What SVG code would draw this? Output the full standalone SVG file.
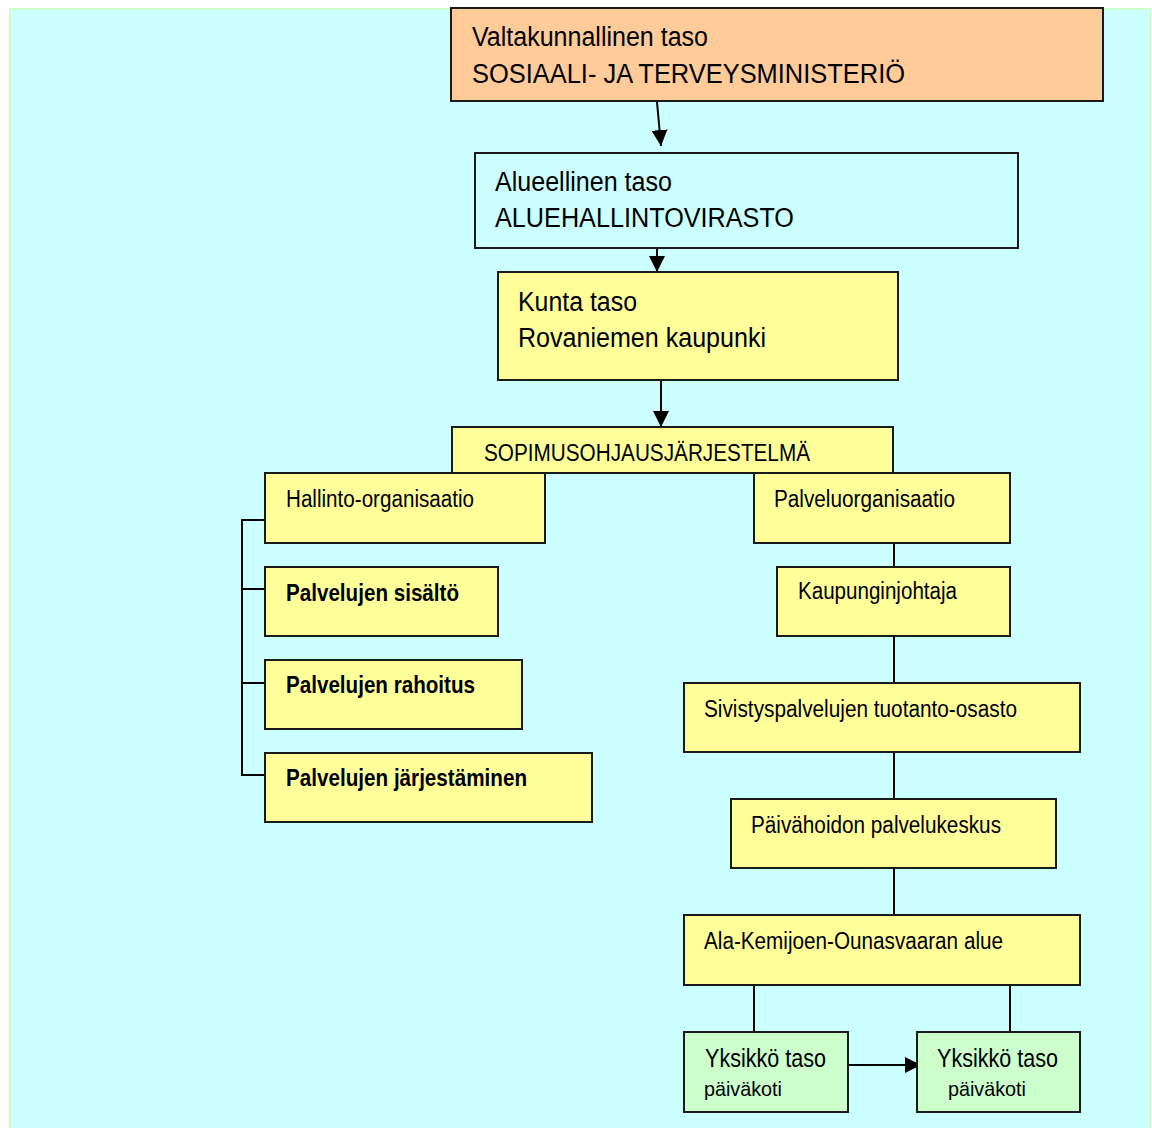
<svg xmlns="http://www.w3.org/2000/svg" width="1152" height="1128" viewBox="0 0 1152 1128">
<style>
  .box { stroke: #1a1a1a; stroke-width: 2; }
  .orange { fill: #FFCC99; }
  .cyan { fill: #CCFFFF; }
  .yellow { fill: #FFFF99; }
  .green { fill: #CCFFCC; }
  text { font-family: "Liberation Sans", Arial, sans-serif; fill: #000; }
  .big { font-size: 27px; }
  .mid { font-size: 23px; }
  .midb { font-size: 23px; font-weight: bold; }
  .small { font-size: 21px; }
  .conn { stroke: #000; stroke-width: 2; fill: none; }
</style>
<defs>
  <marker id="arrowL" viewBox="0 0 10 10" refX="10" refY="5" markerWidth="16" markerHeight="16" markerUnits="userSpaceOnUse" orient="auto">
    <path d="M0,0 L10,5 L0,10 z" fill="#000"/>
  </marker>
</defs>
<rect x="0" y="0" width="1152" height="1128" fill="#FFFFFF"/>
<rect x="10" y="9" width="1140" height="1122" fill="#CCFFFF" stroke="#CCFFCC" stroke-width="2"/>

<g id="connectors">
  <line class="conn" x1="657" y1="102" x2="661" y2="146" marker-end="url(#arrowL)"/>
  <line class="conn" x1="657" y1="249" x2="657" y2="272" marker-end="url(#arrowL)"/>
  <line class="conn" x1="661" y1="381" x2="661" y2="427" marker-end="url(#arrowL)"/>
  <path class="conn" d="M265,520 H242 V775 H265 M242,589 H265 M242,683 H265"/>
  <line class="conn" x1="894" y1="543" x2="894" y2="567"/>
  <line class="conn" x1="894" y1="636" x2="894" y2="683"/>
  <line class="conn" x1="894" y1="752" x2="894" y2="799"/>
  <line class="conn" x1="894" y1="868" x2="894" y2="915"/>
  <line class="conn" x1="754" y1="985" x2="754" y2="1032"/>
  <line class="conn" x1="1010" y1="985" x2="1010" y2="1032"/>
  <line class="conn" x1="848" y1="1065" x2="921" y2="1065" marker-end="url(#arrowL)"/>
</g>

<g id="node-valtakunnallinen">
  <rect class="box orange" x="451" y="8" width="652" height="93"/>
  <text class="big" x="472" y="46" textLength="236" lengthAdjust="spacingAndGlyphs">Valtakunnallinen taso</text>
  <text class="big" x="472" y="83" textLength="433" lengthAdjust="spacingAndGlyphs">SOSIAALI- JA TERVEYSMINISTERIÖ</text>
</g>

<g id="node-alueellinen">
  <rect class="box cyan" x="475" y="153" width="543" height="95"/>
  <text class="big" x="495" y="191" textLength="177" lengthAdjust="spacingAndGlyphs">Alueellinen taso</text>
  <text class="big" x="495" y="227" textLength="299" lengthAdjust="spacingAndGlyphs">ALUEHALLINTOVIRASTO</text>
</g>

<g id="node-kunta">
  <rect class="box yellow" x="498" y="272" width="400" height="108"/>
  <text class="big" x="518" y="311" textLength="119" lengthAdjust="spacingAndGlyphs">Kunta taso</text>
  <text class="big" x="518" y="347" textLength="248" lengthAdjust="spacingAndGlyphs">Rovaniemen kaupunki</text>
</g>

<g id="node-sopimus">
  <rect class="box yellow" x="452" y="427" width="441" height="46"/>
  <text class="mid" x="484" y="461" textLength="326" lengthAdjust="spacingAndGlyphs">SOPIMUSOHJAUSJÄRJESTELMÄ</text>
</g>

<g id="node-hallinto">
  <rect class="box yellow" x="265" y="473" width="280" height="70"/>
  <text class="mid" x="286" y="507" textLength="188" lengthAdjust="spacingAndGlyphs">Hallinto-organisaatio</text>
</g>

<g id="node-sisalto">
  <rect class="box yellow" x="265" y="567" width="233" height="69"/>
  <text class="midb" x="286" y="601" textLength="173" lengthAdjust="spacingAndGlyphs">Palvelujen sisältö</text>
</g>

<g id="node-rahoitus">
  <rect class="box yellow" x="265" y="660" width="257" height="69"/>
  <text class="midb" x="286" y="693" textLength="189" lengthAdjust="spacingAndGlyphs">Palvelujen rahoitus</text>
</g>

<g id="node-jarjestaminen">
  <rect class="box yellow" x="265" y="753" width="327" height="69"/>
  <text class="midb" x="286" y="786" textLength="241" lengthAdjust="spacingAndGlyphs">Palvelujen järjestäminen</text>
</g>

<g id="node-palveluorganisaatio">
  <rect class="box yellow" x="754" y="473" width="256" height="70"/>
  <text class="mid" x="774" y="507" textLength="181" lengthAdjust="spacingAndGlyphs">Palveluorganisaatio</text>
</g>

<g id="node-kaupunginjohtaja">
  <rect class="box yellow" x="777" y="567" width="233" height="69"/>
  <text class="mid" x="798" y="599" textLength="159" lengthAdjust="spacingAndGlyphs">Kaupunginjohtaja</text>
</g>

<g id="node-sivistys">
  <rect class="box yellow" x="684" y="683" width="396" height="69"/>
  <text class="mid" x="704" y="717" textLength="313" lengthAdjust="spacingAndGlyphs">Sivistyspalvelujen tuotanto-osasto</text>
</g>

<g id="node-paivahoito">
  <rect class="box yellow" x="731" y="799" width="325" height="69"/>
  <text class="mid" x="751" y="833" textLength="250" lengthAdjust="spacingAndGlyphs">Päivähoidon palvelukeskus</text>
</g>

<g id="node-alakemijoki">
  <rect class="box yellow" x="684" y="915" width="396" height="70"/>
  <text class="mid" x="704" y="949" textLength="299" lengthAdjust="spacingAndGlyphs">Ala-Kemijoen-Ounasvaaran alue</text>
</g>

<g id="node-yksikko1">
  <rect class="box green" x="684" y="1032" width="164" height="80"/>
  <text class="big" x="705" y="1067" textLength="121" lengthAdjust="spacingAndGlyphs" style="font-size:26px">Yksikkö taso</text>
  <text class="small" x="704" y="1096" textLength="78" lengthAdjust="spacingAndGlyphs">päiväkoti</text>
</g>

<g id="node-yksikko2">
  <rect class="box green" x="917" y="1032" width="163" height="80"/>
  <text class="big" x="937" y="1067" textLength="121" lengthAdjust="spacingAndGlyphs" style="font-size:26px">Yksikkö taso</text>
  <text class="small" x="948" y="1096" textLength="78" lengthAdjust="spacingAndGlyphs">päiväkoti</text>
</g>
</svg>
